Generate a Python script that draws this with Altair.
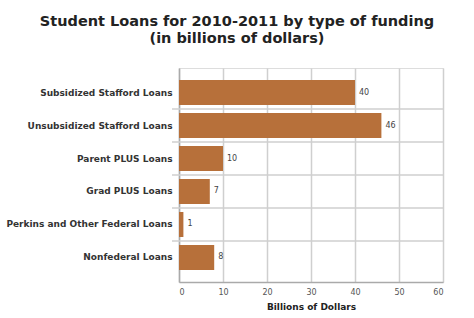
import altair as alt
import pandas as pd

categories = [
    "Subsidized Stafford Loans",
    "Unsubsidized Stafford Loans",
    "Parent PLUS Loans",
    "Grad PLUS Loans",
    "Perkins and Other Federal Loans",
    "Nonfederal Loans",
]
values = [40, 46, 10, 7, 1, 8]
x_ticks = [0, 10, 20, 30, 40, 50, 60]
title_lines = ["Student Loans for 2010-2011 by type of funding", "(in billions of dollars)"]

df = pd.DataFrame({"category": categories, "value": values})
sep = pd.DataFrame({"category": categories[:-1]})

FONT = "DejaVu Sans"
GRID = "#cfcfcf"

y_scale = alt.Scale(domain=categories, paddingInner=0.242, paddingOuter=0.364)
x_scale = alt.Scale(domain=[0, 60], nice=False)

base = alt.Chart(df)

bars = base.mark_bar(color="#B7703A").encode(
    x=alt.X(
        "value:Q",
        scale=x_scale,
        axis=alt.Axis(
            values=x_ticks,
            title="Billions of Dollars",
            grid=True,
            gridColor=GRID,
            gridWidth=1.5,
            ticks=False,
            domainColor="#aaaaaa",
            domainWidth=1.5,
            labelFont=FONT,
            labelFontSize=8,
            labelColor="#555555",
            labelPadding=6,
            titleFont=FONT,
            titleFontSize=9,
            titleFontWeight="bold",
            titleColor="#222222",
            titlePadding=6,
        ),
    ),
    y=alt.Y(
        "category:N",
        sort=categories,
        scale=y_scale,
        axis=alt.Axis(
            title=None,
            ticks=False,
            grid=False,
            domainColor="#aaaaaa",
            domainWidth=1.5,
            labelFont=FONT,
            labelFontSize=9,
            labelFontWeight="bold",
            labelColor="#333333",
            labelPadding=7,
        ),
    ),
)

labels = base.mark_text(
    align="left", baseline="middle", dx=4, font=FONT, fontSize=8, color="#444444"
).encode(
    x=alt.X("value:Q", scale=x_scale),
    y=alt.Y("category:N", sort=categories, scale=y_scale),
    text="value:Q",
)

seps = alt.Chart(sep).mark_rule(color=GRID, strokeWidth=1.5, yOffset=4).encode(
    y=alt.Y("category:N", sort=categories, scale=y_scale, bandPosition=1),
    x=alt.value(-7),
    x2=alt.value(264),
)

chart = (
    alt.layer(bars, seps, labels)
    .properties(
        width=264,
        height=214,
        title=alt.TitleParams(
            text=title_lines,
            font=FONT,
            fontSize=14.5,
            fontWeight="bold",
            color="#222222",
            anchor="middle",
            dx=-74,
            offset=22,
            lineHeight=17,
        ),
        autosize=alt.AutoSizeParams(type="none"),
        padding={"left": 179, "top": 68, "right": 31, "bottom": 36},
    )
    .configure_view(stroke=GRID, strokeWidth=1.5)
    .configure(background="white")
)

chart.save("out.html", embed_options={"renderer": "svg", "actions": False})
